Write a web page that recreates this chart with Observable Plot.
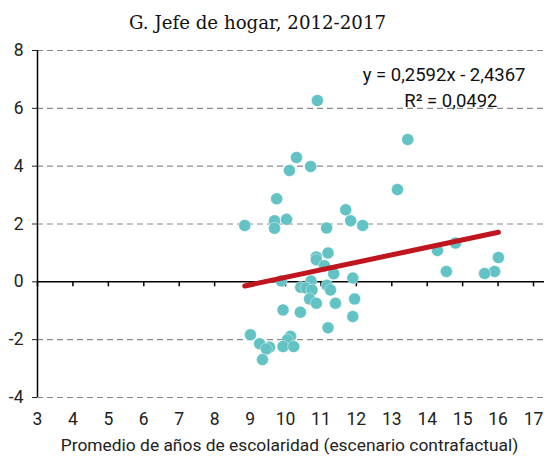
<!DOCTYPE html>
<html>
<head>
<meta charset="utf-8">
<script src="https://cdn.jsdelivr.net/npm/d3@7"></script>
<script src="https://cdn.jsdelivr.net/npm/@observablehq/plot@0.6"></script>
<style>
  html, body { margin: 0; padding: 0; background: #fff; }
  #title { font-family: "DejaVu Serif", "Liberation Serif", serif; font-size: 18.2px; color: #111; text-align: center; height: 40px; line-height: 46px; width: 544px; padding-right: 29px; box-sizing: border-box; }
  svg text { font-family: "Roboto", sans-serif; }
</style>
</head>
<body>
<div id="title">G. Jefe de hogar, 2012-2017</div>
<div id="chart"></div>
<script>
const xs = [10.90, 13.45, 10.31, 10.71, 10.11, 13.16, 9.75, 11.70, 10.03, 9.69, 11.84, 8.85, 12.18, 9.69, 11.16, 14.80, 14.29, 11.20, 10.87, 10.87, 16.01, 11.10, 14.54, 15.90, 15.62, 11.36, 11.90, 9.88, 10.72, 11.17, 10.43, 10.58, 10.75, 11.27, 10.68, 11.95, 10.87, 11.41, 9.93, 10.42, 11.90, 11.20, 9.01, 10.14, 10.05, 9.27, 9.93, 10.23, 9.55, 9.46, 9.35];
const ys = [6.27, 4.92, 4.30, 3.99, 3.85, 3.19, 2.87, 2.49, 2.16, 2.11, 2.11, 1.95, 1.95, 1.85, 1.86, 1.34, 1.08, 1.00, 0.86, 0.76, 0.84, 0.56, 0.36, 0.36, 0.29, 0.28, 0.13, 0.03, 0.03, -0.12, -0.19, -0.21, -0.28, -0.28, -0.59, -0.59, -0.74, -0.74, -0.97, -1.05, -1.20, -1.59, -1.83, -1.88, -2.01, -2.14, -2.24, -2.24, -2.26, -2.32, -2.69];
const slope = 0.2592, intercept = -2.4367;
const equationLabels = ["y = 0,2592x - 2,4367", "R² = 0,0492"];
const xTicks = d3.range(3, 18, 1);
const yTicks = [-4, -2, 0, 2, 4, 6, 8];
const gridTicks = [-4, -2, 2, 4, 6, 8];

const points = xs.map((x, i) => ({x, y: ys[i]}));
const xMin = d3.min(xs), xMax = d3.max(xs);
const fitLine = [xMin, xMax].map(x => ({x, y: slope * x + intercept}));

const chart = Plot.plot({
  width: 544,
  height: 420,
  marginTop: 10,
  marginBottom: 63,
  marginLeft: 37,
  marginRight: 11,
  style: {fontSize: "17px", color: "#222"},
  x: {domain: [3, 17], ticks: xTicks},
  y: {domain: [-4, 8], ticks: yTicks},
  marks: [
    Plot.ruleY(gridTicks, {y: d => d, stroke: "#8a8a8a", strokeDasharray: "6,4", strokeWidth: 1.2, insetRight: -11}),
    Plot.axisY({ticks: yTicks, tickSize: 5, tickPadding: 9, tickFormat: d => String(d), label: null, fontSize: 17.5}),
    Plot.ruleX([0], {x: 3, y1: -4, y2: 8, stroke: "#000", strokeWidth: 1.5}),
    Plot.axisX({ticks: xTicks, tickSize: 0, tickPadding: 15, label: null, fontSize: 17.5}),
    Plot.ruleY([0], {stroke: "#000", strokeWidth: 1.5, insetRight: -11}),
    Plot.ruleX(xTicks, {x: d => d, y1: 0, y2: 0, insetBottom: -5, stroke: "#000", strokeWidth: 1.5}),
    Plot.dot(points, {x: "x", y: "y", r: 6, fill: "#63c3c4", stroke: "#fff", strokeWidth: 0.4}),
    Plot.line(fitLine, {x: "x", y: "y", stroke: "#c0141f", strokeWidth: 5}),
    Plot.text([equationLabels[0]], {text: d => d, frameAnchor: "top-right", textAnchor: "end", dx: -8, dy: 17, fontSize: 18.5, fill: "#111"}),
    Plot.text([equationLabels[1]], {text: d => d, frameAnchor: "top-right", textAnchor: "end", dx: -36, dy: 43, fontSize: 18.5, fill: "#111"}),
    Plot.text(["Promedio de años de escolaridad (escenario contrafactual)"], {text: d => d, frameAnchor: "bottom", dx: 4, dy: 53, fontSize: 17.4, fill: "#222"})
  ]
});
document.getElementById("chart").appendChild(chart);
</script>
</body>
</html>
